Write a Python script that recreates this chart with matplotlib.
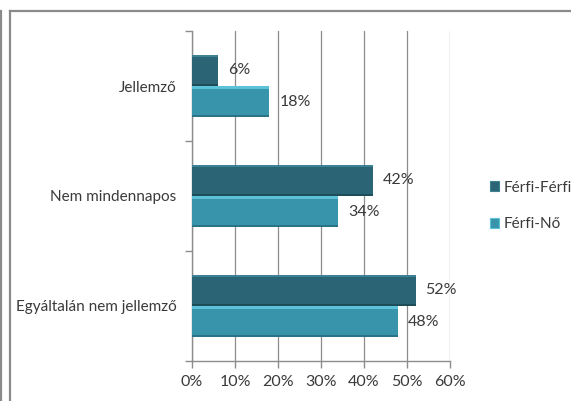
import matplotlib
matplotlib.use("Agg")
import matplotlib.pyplot as plt
from matplotlib.lines import Line2D
from matplotlib.patches import Patch
import numpy as np

plt.rcParams['font.family'] = ['Lato', 'DejaVu Sans']

categories = ["Jellemző", "Nem mindennapos", "Egyáltalán nem jellemző"]
series_names = ["Férfi-Férfi", "Férfi-Nő"]
ferfi_ferfi = [6, 42, 52]
ferfi_no = [18, 34, 48]
x_ticks = [0, 10, 20, 30, 40, 50, 60]

dark = "#2a6475"
dark_hi = "#3d8294"
dark_lo = "#1e4d5a"
light = "#3894ab"
light_hi = "#5cc2d9"
light_lo = "#2a7388"
text_col = "#3a3a3a"
grid_col = "#8c8c8c"

fig = plt.figure(figsize=(5.71, 4.01), dpi=100)
ax = fig.add_axes([192 / 571, 40 / 401, 258 / 571, 330 / 401])

n = len(categories)
y = np.arange(n)[::-1].astype(float)
h = 0.285

series = [
    (ferfi_ferfi, y + h / 2, dark, dark_hi, dark_lo),
    (ferfi_no, y - h / 2, light, light_hi, light_lo),
]
for vals, ypos, c, chi, clo in series:
    ax.barh(ypos, vals, height=h, color=c, zorder=3)
    # bevel: highlight on top, shadow on bottom
    ax.barh(ypos + h / 2 - 0.012, vals, height=0.024, color=chi, zorder=4)
    ax.barh(ypos - h / 2 + 0.01, vals, height=0.02, color=clo, zorder=4)
    for v, yy in zip(vals, ypos):
        ax.text(v + 2.3, yy, f"{v}%", va="center", ha="left",
                fontsize=11.5, color=text_col, zorder=5)

ax.set_xlim(0, 60)
ax.set_ylim(-0.5, n - 0.5)
ax.set_xticks(x_ticks)
ax.set_xticklabels([f"{t}%" for t in x_ticks], fontsize=11.5, color=text_col)
ax.set_yticks(y)
ax.set_yticklabels(categories, fontsize=11, color=text_col)
ax.set_yticks(np.arange(n + 1) - 0.5, minor=True)
ax.tick_params(axis="y", which="major", length=0, pad=11)
ax.tick_params(axis="y", which="minor", length=5, color=grid_col, width=1)
ax.tick_params(axis="x", length=5, color=grid_col, width=1, direction="out", pad=5)

ax.grid(axis="x", color=grid_col, linewidth=0.9, zorder=0)
for s in ["top", "right"]:
    ax.spines[s].set_visible(False)
for s in ["left", "bottom"]:
    ax.spines[s].set_color(grid_col)
    ax.spines[s].set_linewidth(1)

handles = [Patch(facecolor=dark, edgecolor=dark_hi, linewidth=0.8),
           Patch(facecolor=light, edgecolor=light_hi, linewidth=0.8)]
fig.legend(handles, series_names, loc="center left",
           bbox_to_anchor=(484 / 571, 1 - 206 / 401), frameon=False,
           fontsize=11, labelcolor=text_col, handlelength=0.6, handleheight=0.6,
           handletextpad=0.3, labelspacing=1.5, borderaxespad=0)

# outer frame lines
frame_col = "#8a8a8a"
fig.add_artist(Line2D([10 / 571, 10 / 571], [0, 1 - 11 / 401], color=frame_col, lw=1.6))
fig.add_artist(Line2D([10 / 571, 1], [1 - 11 / 401, 1 - 11 / 401], color=frame_col, lw=1.6))
fig.add_artist(Line2D([0.8 / 571, 0.8 / 571], [0, 1 - 11 / 401], color=frame_col, lw=1.6))

fig.savefig("out.png", dpi=100, facecolor="white")
